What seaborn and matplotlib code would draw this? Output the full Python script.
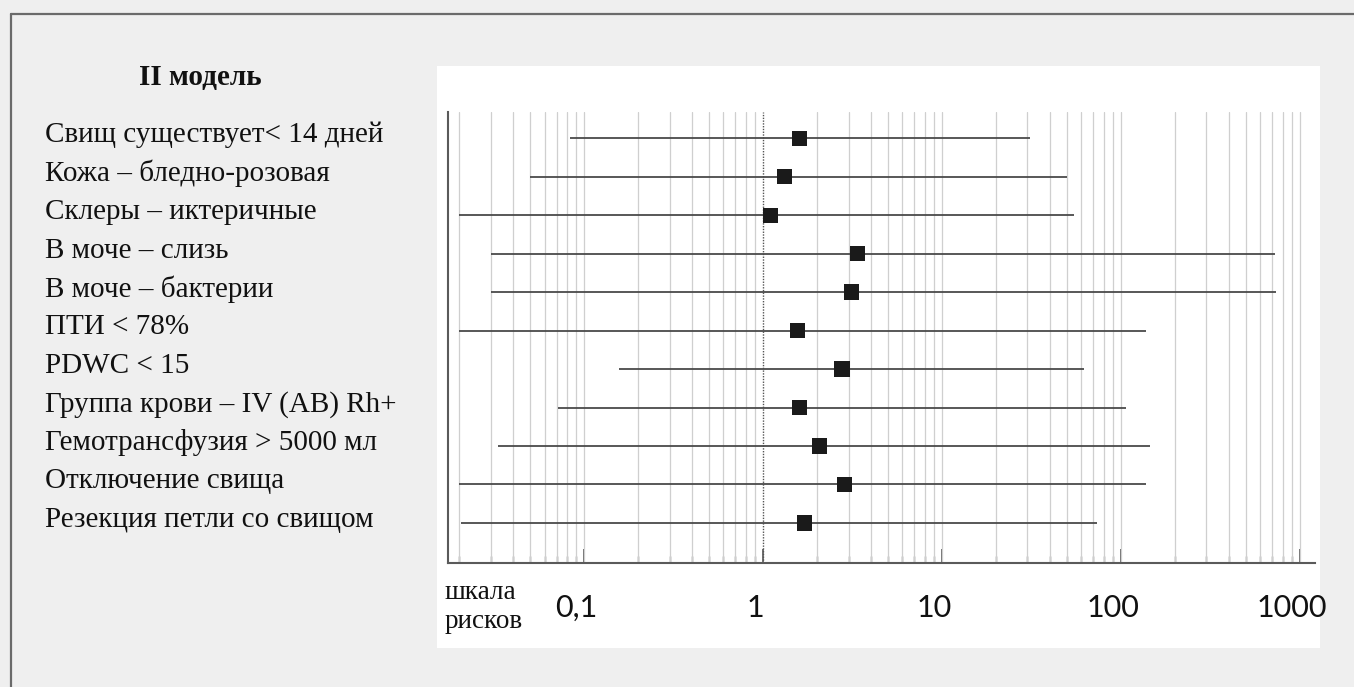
import numpy as np
import pandas as pd
import matplotlib
matplotlib.use("Agg")
import matplotlib.pyplot as plt
import matplotlib.transforms as mtransforms
from matplotlib.patches import Rectangle
from matplotlib.lines import Line2D
from matplotlib.ticker import FixedLocator, NullFormatter
import seaborn as sns

# ---- data ----
title = "II модель"
factors = [
    "Свищ существует< 14 дней",
    "Кожа – бледно-розовая",
    "Склеры – иктеричные",
    "В моче – слизь",
    "В моче – бактерии",
    "ПТИ < 78%",
    "PDWC < 15",
    "Группа крови – IV (AB) Rh+",
    "Гемотрансфузия > 5000 мл",
    "Отключение свища",
    "Резекция петли со свищом",
]
odds = [1.59, 1.32, 1.10, 3.37, 3.12, 1.56, 2.76, 1.59, 2.07, 2.85, 1.70]
ci_low = [0.083, 0.050, 0.020, 0.030, 0.030, 0.020, 0.156, 0.071, 0.033, 0.020, 0.0204]
ci_high = [30.8, 49.7, 54.6, 728, 738, 138.6, 61.7, 106, 144.6, 138.6, 73.1]
major_ticks = [0.1, 1, 10, 100, 1000]
major_labels = ["0,1", "1", "10", "100", "1000"]
axis_caption = "шкала\nрисков"

df = pd.DataFrame({"factor": factors, "or": odds, "lo": ci_low, "hi": ci_high})
df["row"] = np.arange(len(df))

sns.set_theme(style="white")
SERIF = ["Liberation Serif", "DejaVu Serif"]
SANS = ["Lato", "DejaVu Sans"]

W, H = 1354, 687
fig = plt.figure(figsize=(W / 100, H / 100), dpi=100)
fig.patch.set_facecolor("#efefef")

def fx(px):
    return px / W

def fy(py):
    return 1 - py / H

# white panel behind chart
panel = Rectangle((fx(437), fy(648)), fx(1320) - fx(437), fy(66) - fy(648),
                  transform=fig.transFigure, facecolor="white", edgecolor="none", zorder=-5)
fig.patches.append(panel)
# frame lines (top and left)
fig.lines.append(Line2D([fx(11), 1.0], [fy(14), fy(14)], transform=fig.transFigure,
                        color="#6a6a6a", lw=1.6, zorder=-4))
fig.lines.append(Line2D([fx(11), fx(11)], [fy(14), 0.0], transform=fig.transFigure,
                        color="#6a6a6a", lw=1.6, zorder=-4))

ax = fig.add_axes([fx(447.7), fy(563), fx(1315) - fx(447.7), fy(112) - fy(563)])
ax.set_zorder(1)
ax.set_facecolor("white")
ax.set_xscale("log")
ax.set_xlim(0.01726, 1213)
n = len(df)
ax.set_ylim(n - 1 + 1.04, -0.68)

# minor ticks / gridlines
minor = []
for dec in [0.01, 0.1, 1, 10, 100]:
    for k in range(2, 10):
        v = dec * k
        if 0.0199 < v < 1000:
            minor.append(v)
ax.xaxis.set_major_locator(FixedLocator(major_ticks))
ax.xaxis.set_minor_locator(FixedLocator(minor))
ax.xaxis.set_minor_formatter(NullFormatter())
ax.set_xticklabels(major_labels)

for v in minor + major_ticks:
    if v == 1:
        ax.axvline(v, color="#555555", lw=1.0, ls=(0, (1, 1)), zorder=1)
    else:
        ax.axvline(v, color="#cfcfcf", lw=0.9, zorder=1)

# whiskers
ax.hlines(df["row"], df["lo"], df["hi"], color="#4a4a4a", lw=1.3, zorder=2)
# point estimates
sns.scatterplot(data=df, x="or", y="row", marker="s", s=120, color="#1a1a1a",
                edgecolor="none", ax=ax, zorder=3, legend=False)
ax.set_xlabel("")
ax.set_ylabel("")
ax.set_yticks([])

for s in ["top", "right"]:
    ax.spines[s].set_visible(False)
for s in ["left", "bottom"]:
    ax.spines[s].set_color("#5a5a5a")
    ax.spines[s].set_linewidth(1.5)

ax.tick_params(axis="x", which="major", direction="in", length=10, width=1.2,
               color="#555555", pad=22, labelsize=22, bottom=True)
ax.tick_params(axis="x", which="minor", direction="in", length=5, width=1.0,
               color="#666666", bottom=True)
offset = mtransforms.ScaledTranslation(-8 / 100, 0, fig.dpi_scale_trans)
for lab in ax.get_xticklabels():
    lab.set_fontfamily(SANS)
    lab.set_color("#111111")
    lab.set_transform(lab.get_transform() + offset)

# labels
blend = mtransforms.blended_transform_factory(fig.transFigure, ax.transData)
for _, r in df.iterrows():
    fig.text(fx(45), r["row"] - 0.08, r["factor"], transform=blend, ha="left", va="center",
             fontsize=21, family=SERIF, color="#111111")

fig.text(fx(200), fy(78), title, ha="center", va="center", fontsize=21,
         fontweight="bold", family=SERIF, color="#111111")
fig.text(fx(445), fy(607), axis_caption, ha="left", va="center", fontsize=19.5,
         family=SERIF, color="#111111", linespacing=1.2)

fig.savefig("out.png", dpi=100, facecolor=fig.get_facecolor())
